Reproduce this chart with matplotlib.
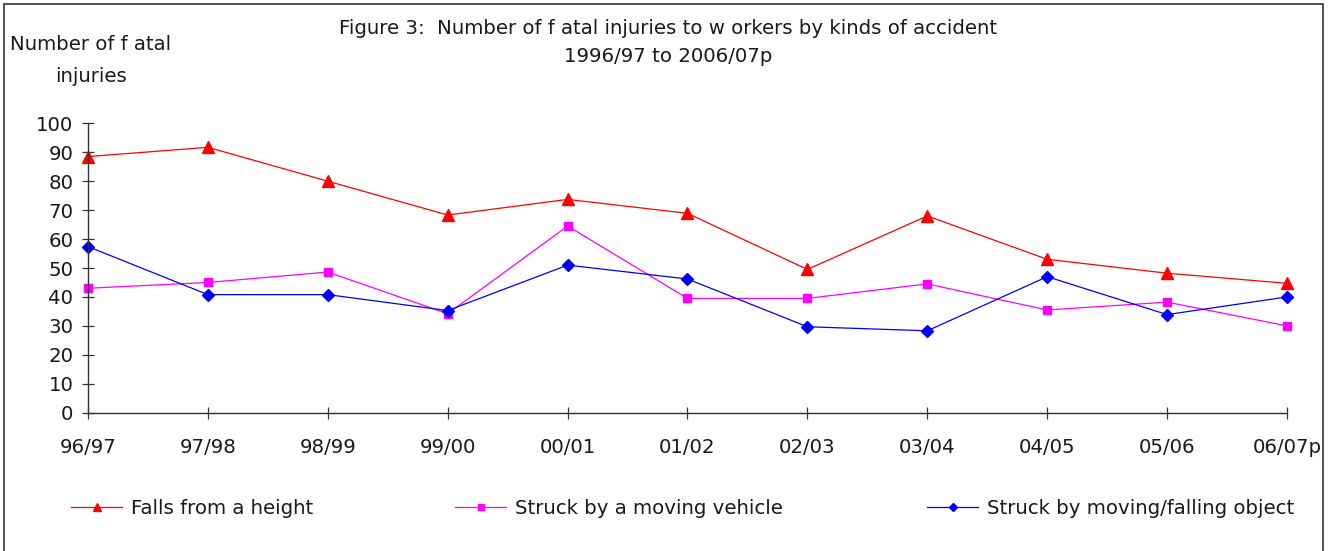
import matplotlib
matplotlib.use("Agg")
import matplotlib.pyplot as plt
from matplotlib.patches import Rectangle

years = ["96/97", "97/98", "98/99", "99/00", "00/01", "01/02", "02/03", "03/04", "04/05", "05/06", "06/07p"]
falls = [88.5, 91.7, 80, 68.3, 73.7, 68.9, 49.5, 68, 53, 48.2, 44.7]
vehicle = [43, 45, 48.6, 34.2, 64.5, 39.5, 39.5, 44.5, 35.5, 38.2, 30]
objects = [57.4, 40.8, 40.8, 35.3, 51, 46.2, 29.7, 28.3, 47, 33.9, 40]
yticks = list(range(0, 101, 10))

plt.rcParams['font.family'] = ['DejaVu Sans']
FS = 14.2
TXT = '#1a1a1a'

W, H = 1332, 551
fig = plt.figure(figsize=(W / 100, H / 100), dpi=100)
fig.patches.append(Rectangle((4 / W, -0.01), (1323 - 4) / W, (H - 4) / H + 0.01,
                             transform=fig.transFigure, fill=False, edgecolor='#333333', lw=1.2))

ax = fig.add_axes([88 / W, 1 - 412.7 / H, (1287 - 88) / W, (412.7 - 123.3) / H])
x = list(range(len(years)))
l1, = ax.plot(x, falls, color='#ff0000', lw=0.9, marker='^', ms=8.5, clip_on=False)
l2, = ax.plot(x, vehicle, color='#ff00ff', lw=0.9, marker='s', ms=6, clip_on=False)
l3, = ax.plot(x, objects, color='#0000ff', lw=0.9, marker='D', ms=6, clip_on=False)

ax.set_xlim(0, len(years) - 1)
ax.set_ylim(0, 100)
ax.set_yticks(yticks)
ax.set_xticks(x)
ax.set_xticklabels(years)
for s in ['top', 'right']:
    ax.spines[s].set_visible(False)
for s in ['left', 'bottom']:
    ax.spines[s].set_color('#333333')
    ax.spines[s].set_linewidth(1.0)
ax.tick_params(axis='both', direction='inout', length=9, width=0.9, color='#333333',
               labelsize=FS, labelcolor=TXT)
ax.tick_params(axis='y', pad=6)
ax.tick_params(axis='x', pad=14)

fig.text(668 / W, 1 - 28 / H, "Figure 3:  Number of f atal injuries to w orkers by kinds of accident",
         ha='center', va='center', fontsize=FS, color=TXT)
fig.text(668 / W, 1 - 57 / H, "1996/97 to 2006/07p", ha='center', va='center', fontsize=FS, color=TXT)
fig.text(91 / W, 1 - 45 / H, "Number of f atal", ha='center', va='center', fontsize=FS, color=TXT)
fig.text(91 / W, 1 - 77 / H, "injuries", ha='center', va='center', fontsize=FS, color=TXT)

labels = ['Falls from a height', 'Struck by a moving vehicle', 'Struck by moving/falling object']
starts = [71, 455, 927]
for h, lab, sx in zip([l1, l2, l3], labels, starts):
    lg = fig.legend([h], [lab], loc='center left', bbox_to_anchor=(sx / W, 1 - 508 / H), frameon=False,
                    fontsize=FS, handlelength=2.6, handletextpad=0.45, borderpad=0, borderaxespad=0,
                    markerscale=0.75)
    for t in lg.get_texts():
        t.set_color(TXT)

fig.savefig('out.png', dpi=100)
